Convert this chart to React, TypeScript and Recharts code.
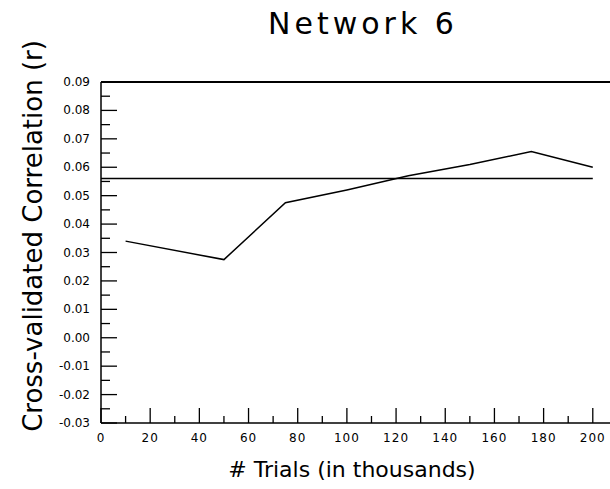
import React from 'react';
import { LineChart, Line, XAxis, YAxis, ReferenceLine, Label } from 'recharts';

// ─── Data ─────────────────────────────────────────────────────────────────────
const trials = [10, 50, 75, 100, 125, 150, 175, 200];
const correlation = [0.034, 0.0275, 0.0475, 0.052, 0.057, 0.061, 0.0655, 0.06];
const baseline = 0.056;
const ceiling = 0.09;

const xTicks = [0, 10, 20, 30, 40, 50, 60, 70, 80, 90, 100, 110, 120, 130, 140, 150, 160, 170, 180, 190, 200];
const yTicks = [-0.03, -0.025, -0.02, -0.015, -0.01, -0.005, 0, 0.005, 0.01, 0.015, 0.02, 0.025, 0.03, 0.035,
  0.04, 0.045, 0.05, 0.055, 0.06, 0.065, 0.07, 0.075, 0.08, 0.085, 0.09];

const data = trials.map((t, i) => ({ t, r: correlation[i] }));

const FONT = '"DejaVu Sans", sans-serif';

// ─── Inward ticks ─────────────────────────────────────────────────────────────
const XTick = ({ x, y, payload }: any) => {
  const major = payload.value % 20 === 0;
  return (
    <g>
      <line x1={x} x2={x} y1={y} y2={y - (major ? 15 : 7)} stroke="#000" strokeWidth={1.3} />
      {major && (
        <text x={x} y={y + 19} textAnchor="middle" fontFamily={FONT} fontSize={12} letterSpacing={1} fill="#000">
          {payload.value}
        </text>
      )}
    </g>
  );
};

const YTick = ({ x, y, payload }: any) => {
  const v = payload.value;
  const major = Math.abs(Math.round(v * 1000)) % 10 === 0;
  return (
    <g>
      <line x1={x} x2={x + (major ? 16 : 9)} y1={y} y2={y} stroke="#000" strokeWidth={1.3} />
      {major && (
        <text x={x - 11} y={y + 4} textAnchor="end" fontFamily={FONT} fontSize={12} fill="#000">
          {v.toFixed(2)}
        </text>
      )}
    </g>
  );
};

export default function App() {
  return (
    <div style={{ position: 'absolute', left: 0, top: 0, width: 610, height: 489, background: '#fff' }}>
      <div
        style={{
          position: 'absolute', left: 0, top: 6, width: 726, textAlign: 'center',
          fontFamily: FONT, fontSize: 30, letterSpacing: 4, color: '#000', lineHeight: '36px',
        }}
      >
        Network 6
      </div>
      <LineChart width={610} height={489} data={data} margin={{ top: 82, right: 0, left: 0, bottom: 26 }}>
        <XAxis
          dataKey="t"
          type="number"
          domain={[0, 207]}
          ticks={xTicks}
          interval={0}
          tick={<XTick />}
          tickLine={false}
          tickSize={0}
          tickMargin={0}
          height={40}
          axisLine={{ stroke: '#000', strokeWidth: 1.5 }}
        >
          <Label
            content={() => (
              <text x={352} y={477} textAnchor="middle" fontFamily={FONT} fontSize={22} fill="#000">
                # Trials (in thousands)
              </text>
            )}
          />
        </XAxis>
        <YAxis
          type="number"
          domain={[-0.03, 0.09]}
          ticks={yTicks}
          interval={0}
          tick={<YTick />}
          tickLine={false}
          tickSize={0}
          tickMargin={0}
          width={101}
          axisLine={{ stroke: '#000', strokeWidth: 1.5 }}
        >
          <Label
            content={() => (
              <text
                x={0}
                y={0}
                transform="translate(42,236) rotate(-90)"
                textAnchor="middle"
                fontFamily={FONT}
                fontSize={26}
                fill="#000"
              >
                Cross-validated Correlation (r)
              </text>
            )}
          />
        </YAxis>
        <ReferenceLine y={ceiling} stroke="#000" strokeWidth={2} />
        <ReferenceLine
          segment={[{ x: 0, y: baseline }, { x: 200, y: baseline }]}
          stroke="#000"
          strokeWidth={1.5}
        />
        <Line
          type="linear"
          dataKey="r"
          stroke="#000"
          strokeWidth={1.5}
          dot={false}
          isAnimationActive={false}
        />
      </LineChart>
    </div>
  );
}
